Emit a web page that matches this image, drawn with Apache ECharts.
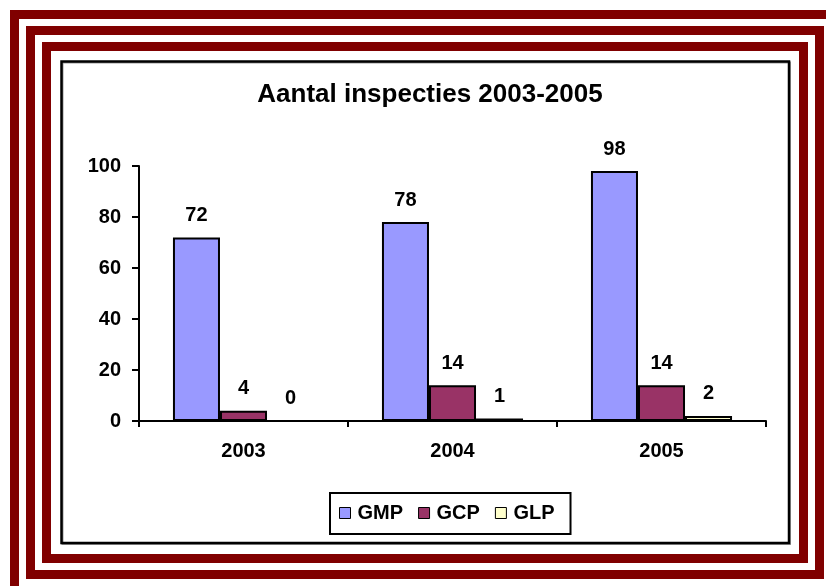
<!DOCTYPE html>
<html>
<head>
<meta charset="utf-8">
<script src="https://cdn.jsdelivr.net/npm/echarts@6/dist/echarts.min.js"></script>
<style>
  html, body { margin: 0; padding: 0; background: #fff; }
  #chart { width: 826px; height: 586px; }
</style>
</head>
<body>
<div id="chart"></div>
<script>
const years = ['2003', '2004', '2005']
const gmp = [72, 78, 98]
const gcp = [4, 14, 14]
const glp = [0, 1, 2]
const seriesNames = ['GMP', 'GCP', 'GLP']
const colors = ['#9999FF', '#993366', '#FFFFCC']

const font = "'Liberation Sans', Arial, sans-serif"
const frameRed = '#800000'

function barSeries (name, values, color) {
  return {
    name: name,
    type: 'bar',
    data: values,
    barGap: 0,
    barCategoryGap: '32.5%',
    itemStyle: { color: color, borderColor: '#000', borderWidth: 2 },
    label: {
      show: true,
      position: 'top',
      distance: 12,
      color: '#000',
      fontFamily: font,
      fontWeight: 'bold',
      fontSize: 20
    }
  }
}

const chart = echarts.init(document.getElementById('chart'))
chart.setOption({
  backgroundColor: '#fff',
  animation: false,
  color: colors,
  title: {
    text: 'Aantal inspecties 2003-2005',
    left: 425,
    textAlign: 'center',
    top: 77,
    textStyle: { fontFamily: font, fontWeight: 'bold', fontSize: 26, color: '#000' }
  },
  legend: {
    data: seriesNames,
    left: 330,
    top: 493,
    padding: [10, 16, 11, 9],
    borderColor: '#000',
    borderWidth: 2,
    itemWidth: 11,
    itemHeight: 11,
    itemGap: 15,
    icon: 'rect',
    itemStyle: { borderColor: '#000', borderWidth: 1 },
    textStyle: { fontFamily: font, fontWeight: 'bold', fontSize: 20, color: '#000', padding: [0, 0, 0, 2] }
  },
  grid: { left: 139, top: 166, width: 627, height: 255 },
  xAxis: {
    type: 'category',
    data: years,
    axisLine: { lineStyle: { color: '#000', width: 2 } },
    axisTick: { show: true, length: 6, lineStyle: { color: '#000', width: 2 } },
    axisLabel: { margin: 20, color: '#000', fontFamily: font, fontWeight: 'bold', fontSize: 20 }
  },
  yAxis: {
    type: 'value',
    min: 0,
    max: 100,
    interval: 20,
    splitLine: { show: false },
    axisLine: { show: true, lineStyle: { color: '#000', width: 2 } },
    axisTick: { show: true, length: 7, lineStyle: { color: '#000', width: 2 } },
    axisLabel: { margin: 18, color: '#000', fontFamily: font, fontWeight: 'bold', fontSize: 20 }
  },
  series: [
    barSeries(seriesNames[0], gmp, colors[0]),
    barSeries(seriesNames[1], gcp, colors[1]),
    barSeries(seriesNames[2], glp, colors[2])
  ],
  graphic: [
    // three red frames
    { type: 'rect', silent: true, shape: { x: 14.5, y: 14.5, width: 900, height: 700 }, style: { fill: 'none', stroke: frameRed, lineWidth: 9 } },
    { type: 'rect', silent: true, shape: { x: 30.5, y: 30.5, width: 789, height: 544 }, style: { fill: 'none', stroke: frameRed, lineWidth: 9 } },
    { type: 'rect', silent: true, shape: { x: 46.5, y: 46.5, width: 757, height: 512 }, style: { fill: 'none', stroke: frameRed, lineWidth: 9 } },
    // chart area border with a light shadow
    { type: 'rect', silent: true, shape: { x: 62.5, y: 62.5, width: 727.5, height: 481.5 }, style: { fill: 'none', stroke: '#999', lineWidth: 2 } },
    { type: 'rect', silent: true, shape: { x: 61.5, y: 61.5, width: 727.5, height: 481.5 }, style: { fill: 'none', stroke: '#000', lineWidth: 2.5 } }
  ]
})
window.addEventListener('resize', () => {
  chart && chart.resize()
})
</script>
</body>
</html>
